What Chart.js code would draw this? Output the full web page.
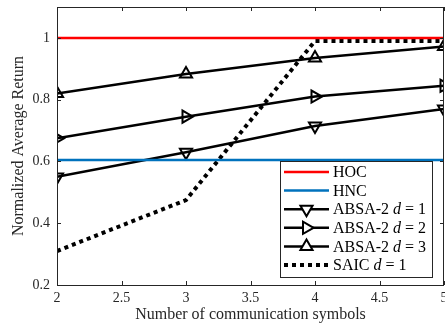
<!DOCTYPE html>
<html>
<head>
<meta charset="utf-8">
<script src="https://cdn.jsdelivr.net/npm/chart.js@4.4.0/dist/chart.umd.min.js"></script>
<style>
  html, body { margin: 0; padding: 0; background: #fff; }
  #wrap { width: 445px; height: 326px; }
</style>
</head>
<body>
<div id="wrap"><canvas id="returnChart" width="445" height="326"></canvas></div>
<script>
// data
const symbols = [2, 3, 4, 5];
const hoc = [1, 1, 1, 1];
const hnc = [0.605, 0.605, 0.605, 0.605];
const absaD1 = [0.55, 0.63, 0.715, 0.77];
const absaD2 = [0.675, 0.745, 0.81, 0.845];
const absaD3 = [0.82, 0.883, 0.935, 0.972];
const saicD1 = [0.31, 0.475, 0.99, 0.99];
const xTicks = [2, 2.5, 3, 3.5, 4, 4.5, 5];
const yTicks = [0.2, 0.4, 0.6, 0.8, 1];

const FONT = '"Liberation Serif", "Times New Roman", serif';
const AXIS = '#262626';

function pts(arr) {
    return symbols.map((x, i) => ({ x: x, y: arr[i] }));
}

// MATLAB-like frame with inward ticks on all four sides
const framePlugin = {
    id: 'frame',
    afterDatasetsDraw(chart) {
        const { ctx, chartArea: a, scales } = chart;
        ctx.save();
        ctx.strokeStyle = AXIS;
        ctx.lineWidth = 1;
        ctx.strokeRect(a.left + 0.5, a.top + 0.5, a.right - a.left - 1, a.bottom - a.top);
        ctx.beginPath();
        xTicks.forEach(v => {
            const px = Math.round(scales.x.getPixelForValue(v)) + 0.5;
            ctx.moveTo(px, a.bottom); ctx.lineTo(px, a.bottom - 4);
            ctx.moveTo(px, a.top); ctx.lineTo(px, a.top + 4);
        });
        yTicks.forEach(v => {
            const py = Math.round(scales.y.getPixelForValue(v)) + 0.5;
            ctx.moveTo(a.left, py); ctx.lineTo(a.left + 4, py);
            ctx.moveTo(a.right, py); ctx.lineTo(a.right - 4, py);
        });
        ctx.stroke();
        ctx.restore();
    }
};

// legend box in the lower right, drawn by hand to get the italic d
const legendPlugin = {
    id: 'boxLegend',
    afterDraw(chart) {
        const ctx = chart.ctx;
        const bx = 280, by = 161, bw = 152, bh = 116;
        ctx.save();
        ctx.fillStyle = '#fff';
        ctx.fillRect(bx, by, bw, bh);
        ctx.strokeStyle = AXIS;
        ctx.lineWidth = 1;
        ctx.strokeRect(bx + 0.5, by + 0.5, bw, bh);
        const rowH = 18.6;
        chart.data.datasets.forEach((ds, i) => {
            const y = by + 11 + i * rowH;
            ctx.strokeStyle = ds.borderColor;
            ctx.lineWidth = ds.borderWidth;
            ctx.setLineDash(ds.borderDash || []);
            ctx.beginPath();
            ctx.moveTo(284, y);
            ctx.lineTo(329, y);
            ctx.stroke();
            ctx.setLineDash([]);
            if (ds.pointRadius > 0) {
                ctx.fillStyle = '#fff';
                ctx.strokeStyle = '#000';
                ctx.lineWidth = ds.pointBorderWidth;
                Chart.helpers.drawPoint(ctx, {
                    pointStyle: ds.pointStyle,
                    rotation: ds.pointRotation,
                    radius: ds.pointRadius,
                    borderWidth: ds.pointBorderWidth
                }, 306.5, y);
            }
            ctx.fillStyle = '#000';
            ctx.textBaseline = 'middle';
            ctx.textAlign = 'left';
            let x = 333;
            ds.legendParts.forEach(p => {
                ctx.font = (p.italic ? 'italic ' : '') + '16px ' + FONT;
                ctx.fillText(p.t, x, y + 1);
                x += ctx.measureText(p.t).width;
            });
        });
        ctx.restore();
    }
};

function absa(label, data, rot) {
    return {
        label: label,
        data: pts(data),
        borderColor: '#000',
        borderWidth: 2.5,
        pointStyle: 'triangle',
        pointRotation: rot,
        pointRadius: 7,
        pointHoverRadius: 7,
        pointBorderWidth: 2,
        pointBorderColor: '#000',
        pointBackgroundColor: 'rgba(255,255,255,0)',
        legendParts: [{ t: 'ABSA-2 ' }, { t: 'd', italic: true }, { t: ' = ' + label.slice(-1) }]
    };
}

new Chart(document.getElementById('returnChart').getContext('2d'), {
    type: 'line',
    data: {
        datasets: [
            {
                label: 'HOC', data: pts(hoc), borderColor: '#ff0000', borderWidth: 2.5,
                pointRadius: 0, legendParts: [{ t: 'HOC' }]
            },
            {
                label: 'HNC', data: pts(hnc), borderColor: '#0072bd', borderWidth: 2.5,
                pointRadius: 0, legendParts: [{ t: 'HNC' }]
            },
            absa('ABSA-2 d = 1', absaD1, 180),
            absa('ABSA-2 d = 2', absaD2, 90),
            absa('ABSA-2 d = 3', absaD3, 0),
            {
                label: 'SAIC d = 1', data: pts(saicD1), borderColor: '#000', borderWidth: 4,
                borderDash: [4, 4], pointRadius: 0,
                legendParts: [{ t: 'SAIC ' }, { t: 'd', italic: true }, { t: ' = 1' }]
            }
        ]
    },
    options: {
        responsive: false,
        animation: false,
        layout: { autoPadding: false, padding: { left: 0, right: 1, top: 7, bottom: 0 } },
        plugins: {
            legend: { display: false },
            tooltip: { enabled: false }
        },
        scales: {
            x: {
                type: 'linear',
                min: 2,
                max: 5,
                afterFit: s => { s.height = 41; s.paddingLeft = 0; s.paddingRight = 0; },
                afterBuildTicks: s => { s.ticks = xTicks.map(v => ({ value: v })); },
                grid: { display: false, drawTicks: false },
                border: { display: false },
                ticks: {
                    color: AXIS,
                    padding: 5,
                    maxRotation: 0,
                    font: { family: FONT, size: 14 },
                    callback: v => String(v)
                },
                title: {
                    display: true,
                    text: 'Number of communication symbols',
                    color: AXIS,
                    padding: { top: 0, bottom: 2 },
                    font: { family: FONT, size: 16 }
                }
            },
            y: {
                min: 0.2,
                max: 1.1,
                afterFit: s => { s.width = 57; s.paddingTop = 0; s.paddingBottom = 0; },
                afterBuildTicks: s => { s.ticks = yTicks.map(v => ({ value: v })); },
                grid: { display: false, drawTicks: false },
                border: { display: false },
                ticks: {
                    color: AXIS,
                    padding: 7,
                    font: { family: FONT, size: 14 },
                    callback: v => String(+v.toFixed(2))
                },
                title: {
                    display: true,
                    text: 'Normalized Average Return',
                    color: AXIS,
                    padding: { top: 9, bottom: 4 },
                    font: { family: FONT, size: 16 }
                }
            }
        }
    },
    plugins: [framePlugin, legendPlugin]
});
</script>
</body>
</html>
